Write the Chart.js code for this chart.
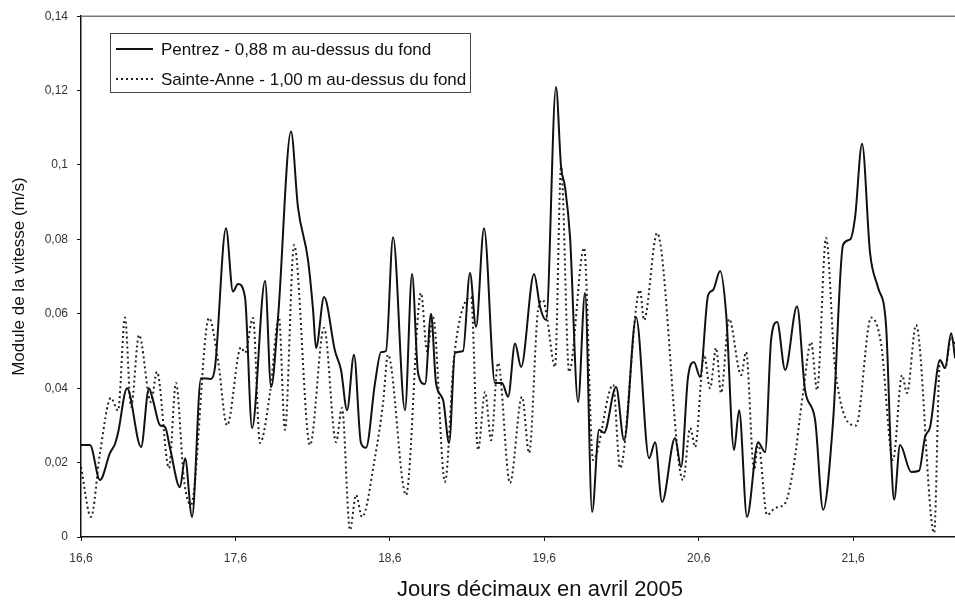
<!DOCTYPE html>
<html>
<head>
<meta charset="utf-8">
<script src="https://cdn.jsdelivr.net/npm/chart.js@4/dist/chart.umd.min.js"></script>
<style>
  html, body { margin: 0; padding: 0; background: #fff; }
  #wrap { position: relative; width: 955px; height: 605px; }
  #xtitle {
    position: absolute; left: 0; width: 1080px; top: 576px;
    text-align: center; font: 22px "Liberation Sans", Arial, sans-serif; color: #111;
  }
</style>
</head>
<body>
<div id="wrap">
  <canvas id="myChart" width="955" height="605"></canvas>
  <div id="xtitle">Jours décimaux en avril 2005</div>
</div>
<script>
// jours décimaux / module de la vitesse (m/s)
let pentrezX = [16.600, 16.658, 16.723, 16.788, 16.820, 16.840, 16.898, 16.989, 17.040, 17.066,
  17.112, 17.144, 17.176, 17.241, 17.274, 17.319, 17.377, 17.442, 17.468, 17.539,
  17.584, 17.617, 17.662, 17.708, 17.792, 17.831, 17.876, 17.960, 18.005, 18.070,
  18.103, 18.122, 18.174, 18.245, 18.284, 18.323, 18.368, 18.413, 18.446, 18.504,
  18.543, 18.575, 18.621, 18.698, 18.744, 18.783, 18.828, 18.867, 18.899, 18.945,
  18.984, 19.022, 19.074, 19.119, 19.158, 19.210, 19.281, 19.327, 19.366, 19.411,
  19.450, 19.534, 19.573, 19.612, 19.676, 19.709, 19.735, 19.767, 19.819, 19.864,
  19.910, 19.955, 19.987, 20.065, 20.117, 20.195, 20.279, 20.318, 20.363, 20.447,
  20.486, 20.531, 20.570, 20.609, 20.661, 20.693, 20.739, 20.778, 20.829, 20.862,
  20.913, 20.985, 21.030, 21.069, 21.108, 21.160, 21.237, 21.289, 21.354, 21.406,
  21.471, 21.535, 21.581, 21.613, 21.658, 21.710, 21.762, 21.814, 21.846, 21.866,
  21.904, 21.976, 22.027, 22.066, 22.099, 22.163, 22.196, 22.235, 22.261];
let pentrezY = [0.0247, 0.0247, 0.0153, 0.0226, 0.0250, 0.0280, 0.0400, 0.0242, 0.0400, 0.0368,
  0.0300, 0.0296, 0.0240, 0.0134, 0.0212, 0.0054, 0.0427, 0.0425, 0.0457, 0.0830,
  0.0660, 0.0680, 0.0645, 0.0293, 0.0688, 0.0403, 0.0590, 0.1090, 0.0887, 0.0745,
  0.0610, 0.0508, 0.0645, 0.0500, 0.0449, 0.0341, 0.0490, 0.0253, 0.0240, 0.0414,
  0.0497, 0.0500, 0.0806, 0.0341, 0.0707, 0.0440, 0.0411, 0.0600, 0.0414, 0.0368,
  0.0253, 0.0495, 0.0500, 0.0710, 0.0565, 0.0830, 0.0414, 0.0414, 0.0377, 0.0520,
  0.0457, 0.0707, 0.0618, 0.0583, 0.1210, 0.0995, 0.0940, 0.0806, 0.0363, 0.0656,
  0.0067, 0.0288, 0.0280, 0.0403, 0.0260, 0.0590, 0.0212, 0.0255, 0.0094, 0.0266,
  0.0188, 0.0430, 0.0470, 0.0430, 0.0650, 0.0664, 0.0715, 0.0600, 0.0234, 0.0341,
  0.0054, 0.0255, 0.0228, 0.0530, 0.0578, 0.0449, 0.0620, 0.0395, 0.0315, 0.0073,
  0.0315, 0.0785, 0.0800, 0.0860, 0.1057, 0.0763, 0.0670, 0.0565, 0.0215, 0.0100,
  0.0247, 0.0175, 0.0178, 0.0269, 0.0296, 0.0476, 0.0454, 0.0548, 0.0480];

let sainteAnneX = [16.600, 16.665, 16.723, 16.794, 16.840, 16.885, 16.924, 16.976, 17.053, 17.092,
  17.170, 17.215, 17.267, 17.312, 17.429, 17.487, 17.546, 17.636, 17.662, 17.714,
  17.759, 17.824, 17.882, 17.921, 17.980, 18.083, 18.174, 18.252, 18.290, 18.342,
  18.381, 18.420, 18.504, 18.556, 18.588, 18.705, 18.802, 18.841, 18.880, 18.957,
  19.016, 19.126, 19.171, 19.217, 19.256, 19.301, 19.378, 19.456, 19.502, 19.560,
  19.592, 19.618, 19.670, 19.709, 19.761, 19.858, 19.916, 20.046, 20.091, 20.220,
  20.246, 20.331, 20.499, 20.545, 20.577, 20.635, 20.674, 20.713, 20.745, 20.797,
  20.875, 20.907, 20.959, 20.985, 21.043, 21.095, 21.160, 21.211, 21.276, 21.328,
  21.367, 21.425, 21.483, 21.619, 21.717, 21.781, 21.859, 21.917, 21.949, 22.008,
  22.125, 22.163, 22.196, 22.235, 22.261];
let sainteAnneY = [0.0188, 0.0054, 0.0226, 0.0374, 0.0340, 0.0590, 0.0350, 0.0543, 0.0363, 0.0444,
  0.0185, 0.0414, 0.0153, 0.0086, 0.0589, 0.0476, 0.0300, 0.0510, 0.0495, 0.0589,
  0.0253, 0.0387, 0.0590, 0.0288, 0.0785, 0.0247, 0.0562, 0.0255, 0.0347, 0.0019,
  0.0113, 0.0054, 0.0215, 0.0360, 0.0490, 0.0113, 0.0656, 0.0500, 0.0590, 0.0148,
  0.0484, 0.0645, 0.0234, 0.0390, 0.0260, 0.0468, 0.0145, 0.0377, 0.0226, 0.0610,
  0.0637, 0.0589, 0.0457, 0.0995, 0.0444, 0.0777, 0.0207, 0.0409, 0.0185, 0.0664,
  0.0583, 0.0817, 0.0153, 0.0293, 0.0242, 0.0490, 0.0400, 0.0508, 0.0387, 0.0586,
  0.0435, 0.0497, 0.0180, 0.0253, 0.0059, 0.0078, 0.0091, 0.0180, 0.0387, 0.0524,
  0.0395, 0.0804, 0.0457, 0.0300, 0.0590, 0.0520, 0.0207, 0.0435, 0.0387, 0.0570,
  0.0011, 0.0476, 0.0454, 0.0538, 0.0516];

let xTicks = [16.6, 17.6, 18.6, 19.6, 20.6, 21.6];
let seriesLabels = ['Pentrez - 0,88 m au-dessus du fond', 'Sainte-Anne - 1,00 m au-dessus du fond'];

const FONT = '"Liberation Sans", Arial, sans-serif';

function toPoints(xs, ys) {
  return xs.map((x, i) => ({ x: x, y: ys[i] }));
}

function fmt(v, d) {
  return Number(v.toFixed(d)).toString().replace('.', ',');
}

// cadre du haut + légende encadrée dans la zone du graphique
const framePlugin = {
  id: 'frame',
  afterDraw(chart) {
    const ctx = chart.ctx;
    const area = chart.chartArea;
    ctx.save();
    ctx.strokeStyle = '#777';
    ctx.lineWidth = 1.5;
    ctx.beginPath();
    ctx.moveTo(area.left, area.top);
    ctx.lineTo(area.right, area.top);
    ctx.stroke();

    // légende
    const bx = 110, by = 33, bw = 360, bh = 59;
    ctx.fillStyle = '#fff';
    ctx.fillRect(bx, by, bw, bh);
    ctx.strokeStyle = '#444';
    ctx.lineWidth = 1;
    ctx.strokeRect(bx + 0.5, by + 0.5, bw, bh);
    chart.data.datasets.forEach((ds, i) => {
      const y = by + 16 + i * 30;
      ctx.strokeStyle = ds.borderColor;
      ctx.lineWidth = ds.borderWidth;
      ctx.setLineDash(ds.borderDash || []);
      ctx.beginPath();
      ctx.moveTo(bx + 6, y);
      ctx.lineTo(bx + 43, y);
      ctx.stroke();
      ctx.setLineDash([]);
      ctx.fillStyle = '#111';
      ctx.font = '17px ' + FONT;
      ctx.textBaseline = 'middle';
      ctx.fillText(ds.label, bx + 51, y + 1);
    });
    ctx.restore();
  }
};

const ctx = document.getElementById('myChart').getContext('2d');

// eslint-disable-next-line no-undef
const chart = new Chart(ctx, {
  type: 'line',
  data: {
    datasets: [{
      label: seriesLabels[0],
      data: toPoints(pentrezX, pentrezY),
      borderColor: '#111',
      borderWidth: 2,
      pointRadius: 0,
      cubicInterpolationMode: 'monotone',
      fill: false,
    },
    {
      label: seriesLabels[1],
      data: toPoints(sainteAnneX, sainteAnneY),
      borderColor: '#222',
      borderWidth: 2,
      borderDash: [2, 3],
      pointRadius: 0,
      cubicInterpolationMode: 'monotone',
      fill: false,
    }]
  },
  options: {
    responsive: false,
    animation: false,
    layout: { padding: { top: 16, right: 0, bottom: 0, left: 0 } },
    plugins: {
      legend: { display: false },
      tooltip: { enabled: false },
    },
    scales: {
      x: {
        type: 'linear',
        min: 16.6,
        max: 22.26,
        afterBuildTicks: (s) => { s.ticks = xTicks.map(v => ({ value: v })); },
        afterFit: (s) => { s.height = 68; },
        grid: { drawOnChartArea: false, tickLength: 4, color: '#111' },
        border: { color: '#111', width: 1.5 },
        ticks: {
          padding: 10,
          color: '#333',
          font: { family: FONT, size: 12 },
          maxRotation: 0,
          callback: (v) => fmt(v, 1),
        },
      },
      y: {
        min: 0,
        max: 0.14,
        afterFit: (s) => { s.width = 81; },
        grid: { drawOnChartArea: false, tickLength: 4, color: '#111' },
        border: { color: '#111', width: 1.5 },
        ticks: {
          stepSize: 0.02,
          padding: 9,
          color: '#333',
          font: { family: FONT, size: 12 },
          callback: (v) => fmt(v, 2),
        },
        title: {
          display: true,
          text: 'Module de la vitesse (m/s)',
          color: '#111',
          font: { family: FONT, size: 17 },
          padding: { top: 9, bottom: 0 },
        },
      },
    },
  },
  plugins: [framePlugin],
});
</script>
</body>
</html>
